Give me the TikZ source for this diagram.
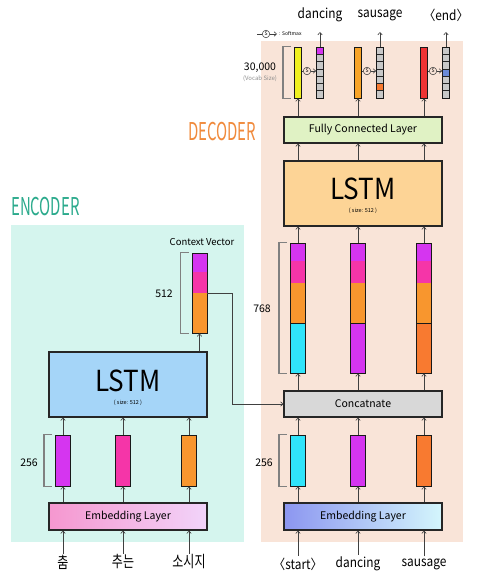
\documentclass[tikz,border=0pt]{standalone}
\usepackage{fontspec}
\setmainfont{Noto Sans CJK KR}
\usetikzlibrary{arrows.meta}
\definecolor{encbg}{HTML}{D5F5EE}
\definecolor{decbg}{HTML}{F9E4D8}
\definecolor{enctitle}{HTML}{2BAA8C}
\definecolor{dectitle}{HTML}{F08A3C}
\definecolor{purp}{HTML}{D535F0}
\definecolor{pinkc}{HTML}{F535A8}
\definecolor{orng}{HTML}{F8962E}
\definecolor{cyanc}{HTML}{30E4FA}
\definecolor{orng2}{HTML}{F87A30}
\definecolor{lstmblue}{HTML}{A5D5F8}
\definecolor{lstmorange}{HTML}{FDD496}
\definecolor{fcgreen}{HTML}{E0F2C4}
\definecolor{concgray}{HTML}{D8D8D8}
\definecolor{yellowc}{HTML}{F0F020}
\definecolor{orng3}{HTML}{F8A428}
\definecolor{redc}{HTML}{EE3434}
\definecolor{cellgray}{HTML}{C8C8C8}
\definecolor{cellblue}{HTML}{6A8AD8}
\definecolor{embAl}{HTML}{F597CF}
\definecolor{embAr}{HTML}{F2D4FA}
\definecolor{embBl}{HTML}{8C96F0}
\definecolor{embBr}{HTML}{D4F6FC}
\begin{document}
\begin{tikzpicture}[x=1pt,y=-1pt,
  layer/.style={draw=black!85,line width=1.1pt,minimum width=158pt,inner sep=0pt,font=\fontsize{10.5}{12}\selectfont},
  vec/.style={draw=black!90,line width=0.9pt,minimum width=15pt,inner sep=0pt},
  obar/.style={draw=black!90,line width=0.8pt,minimum width=7pt,minimum height=51pt,inner sep=0pt},
  arr/.style={draw=black!75,line width=0.6pt,-{Straight Barb[length=2.5pt,width=4.5pt]}},
  brk/.style={draw=black!50,line width=1.6pt},
  lbl/.style={font=\fontsize{10.5}{12}\selectfont,inner sep=0pt},
  word/.style={font=\fontsize{13.5}{15}\selectfont,inner sep=2pt},
  kword/.style={font=\fontsize{16}{17}\selectfont,inner sep=1pt},
  big/.style={font=\fontsize{29}{30}\selectfont,inner sep=0pt},
  tiny/.style={font=\fontsize{5.5}{6}\selectfont,inner sep=0pt},
  smx/.style={circle,draw=black!80,line width=0.5pt,inner sep=0pt,minimum size=7.5pt,font=\fontsize{5}{5}\selectfont},
]
\useasboundingbox (0,0) rectangle (479,578);
% backgrounds
\fill[encbg] (11,225) rectangle (244,542);
\fill[decbg] (261,41) rectangle (463,542);
\node[font=\fontsize{24.5}{25}\selectfont,text=enctitle,anchor=west,inner sep=0pt] (enct) at (11,207) {\scalebox{0.61}[1]{ENCODER}};
\node[font=\fontsize{24.5}{25}\selectfont,text=dectitle,anchor=west,inner sep=0pt] (dect) at (188,132) {\scalebox{0.61}[1]{DECODER}};

% ================= ENCODER =================
\node[layer,minimum height=27pt,left color=embAl,right color=embAr] (eemb) at (128,516.5) {Embedding Layer};
\node[vec,minimum height=51pt,fill=purp] (ev1) at (63,460.5) {};
\node[vec,minimum height=51pt,fill=pinkc] (ev2) at (123,460.5) {};
\node[vec,minimum height=51pt,fill=orng] (ev3) at (189,460.5) {};
\draw[brk] ([xshift=-3pt]ev1.north west) -| ([xshift=-11pt]ev1.south west) -- ([xshift=-3pt]ev1.south west);
\node[lbl] (e256) at (29,463) {256};
\node[layer,minimum height=65pt,fill=lstmblue] (elstm) at (128,384.5) {};
\node[big] (elt) at (128,381) {\scalebox{0.9}[1]{LSTM}};
\node[tiny] (els) at (128,403) {( size: 512 )};
% context vector
\fill[purp] (192,253) rectangle (207,272);
\fill[pinkc] (192,272) rectangle (207,293);
\fill[orng] (192,293) rectangle (207,333);
\node[vec,minimum height=80pt] (ctx) at (199.5,293) {};
\node[font=\fontsize{9.5}{11}\selectfont,inner sep=0pt] (ctxl) at (202,242) {Context Vector};
\draw[brk] ([xshift=-3pt]ctx.north west) -| ([xshift=-11pt]ctx.south west) -- ([xshift=-3pt]ctx.south west);
\node[lbl] (e512) at (164,294) {512};
% inputs
\node[kword] (i1) at (63,562) {\scalebox{0.75}[1]{춤}};
\node[kword] (i2) at (123,562) {\scalebox{0.75}[1]{추는}};
\node[kword] (i3) at (189,562) {\scalebox{0.75}[1]{소시지}};
\foreach \k in {1,2,3} {
  \draw[arr] (i\k.north) -- (eemb.south -| i\k);
  \draw[arr] (eemb.north -| ev\k) -- (ev\k.south);
  \draw[arr] (ev\k.north) -- (elstm.south -| ev\k);
}
\draw[arr] (elstm.north -| ctx) -- (ctx.south);

% ================= DECODER =================
\node[layer,minimum height=27pt,left color=embBl,right color=embBr] (demb) at (363,516.5) {Embedding Layer};
\node[vec,minimum height=51pt,fill=cyanc] (dv1) at (298,460.5) {};
\node[vec,minimum height=51pt,fill=purp] (dv2) at (358,460.5) {};
\node[vec,minimum height=51pt,fill=orng2] (dv3) at (424,460.5) {};
\draw[brk] ([xshift=-3pt]dv1.north west) -| ([xshift=-11pt]dv1.south west) -- ([xshift=-3pt]dv1.south west);
\node[lbl] (d256) at (264,463) {256};
\node[layer,minimum height=26pt,fill=concgray] (conc) at (363,404) {Concatnate};
% 768 vectors
\foreach \k/\x/\c in {1/298/cyanc,2/358/purp,3/424/orng2} {
  \fill[purp] (\x-7.5,243) rectangle (\x+7.5,261);
  \fill[pinkc] (\x-7.5,261) rectangle (\x+7.5,283);
  \fill[orng] (\x-7.5,283) rectangle (\x+7.5,323);
  \fill[\c] (\x-7.5,323) rectangle (\x+7.5,373);
  \node[vec,minimum height=130pt] (dw\k) at (\x,308) {};
  \draw[black!90,line width=0.9pt] (dw\k.west |- 0,323) -- (dw\k.east |- 0,323);
}
\draw[brk] ([xshift=-3pt]dw1.north west) -| ([xshift=-11pt]dw1.south west) -- ([xshift=-3pt]dw1.south west);
\node[lbl] (d768) at (262,309) {768};
\node[layer,minimum height=65pt,fill=lstmorange] (dlstm) at (363,193.5) {};
\node[big] (dlt) at (363,189) {\scalebox{0.9}[1]{LSTM}};
\node[tiny] (dls) at (363,211) {( size: 512 )};
\node[layer,minimum height=26pt,fill=fcgreen] (fc) at (363,130) {Fully Connected Layer};
% output bars
\node[obar,fill=yellowc] (b1) at (298,72.5) {};
\node[obar,fill=orng3] (b2) at (358,72.5) {};
\node[obar,fill=redc] (b3) at (424,72.5) {};
% softmax grids
\foreach \k/\x/\hi/\hc in {1/320/0/purp,2/380/5/orng2,3/446/3/cellblue} {
  \foreach \j in {0,...,6} {
    \pgfmathsetmacro{\ya}{47+\j*51/7}
    \pgfmathsetmacro{\yb}{47+(\j+1)*51/7}
    \ifnum\j=\hi
      \filldraw[fill=\hc,draw=black!85,line width=0.5pt] (\x-3.5,\ya) rectangle (\x+3.5,\yb);
    \else
      \filldraw[fill=cellgray,draw=black!85,line width=0.5pt] (\x-3.5,\ya) rectangle (\x+3.5,\yb);
    \fi
  }
  \node[obar,fill=none] (g\k) at (\x,72.5) {};
}
\foreach \k/\x in {1/307,2/367,3/433} {
  \node[smx] (s\k) at (\x,71) {S};
  \draw[black!75,line width=0.5pt] (b\k.east |- s\k) -- (s\k.west);
  \draw[arr] (s\k.east) -- (g\k.west |- s\k);
}
\draw[brk] (b1.north west) ++(-3pt,0) coordinate (bk1) -- ++(-8pt,0) coordinate (bk2) -- (bk2 |- b1.south) -- (bk1 |- b1.south);
\node[lbl] (vs) at (260,68) {30,000};
\node[font=\fontsize{6}{7}\selectfont,text=black!45,inner sep=0pt] (vsl) at (260,79) {\textit{(Vocab Size)}};
% legend
\node[smx] (ls) at (266,34) {S};
\coordinate (lsa) at (257,34);
\coordinate (lsb) at (277,34);
\draw[black!75,line width=0.5pt] (lsa) -- (ls.west);
\draw[arr] (ls.east) -- (lsb);
\node[font=\fontsize{5}{6}\selectfont,anchor=west,inner sep=0pt] (lst) at (279,34) {: Softmax};
% outputs
\coordinate (o1) at (320,32);
\coordinate (o2) at (380,32);
\coordinate (o3) at (446,32);
\node[word] (t1) at (320,15) {\scalebox{0.88}[1]{dancing}};
\node[word] (t2) at (380,15) {\scalebox{0.88}[1]{sausage}};
\node[word] (t3) at (446,15) {\scalebox{0.88}[1]{〈end〉}};
% decoder inputs
\node[word] (j1) at (298,564) {\scalebox{0.88}[1]{〈start〉}};
\node[word] (j2) at (358,564) {\scalebox{0.88}[1]{dancing}};
\node[word] (j3) at (424,564) {\scalebox{0.88}[1]{sausage}};
\foreach \k in {1,2,3} {
  \draw[arr] (j\k.north) -- (demb.south -| j\k);
  \draw[arr] (demb.north -| dv\k) -- (dv\k.south);
  \draw[arr] (dv\k.north) -- (conc.south -| dv\k);
  \draw[arr] (conc.north -| dw\k) -- (dw\k.south);
  \draw[arr] (dw\k.north) -- (dlstm.south -| dw\k);
  \draw[arr] (dlstm.north -| dw\k) -- (fc.south -| dw\k);
  \draw[arr] (fc.north -| b\k) -- (b\k.south);
  \draw[arr] (g\k.north) -- (o\k);
}
% context to concatenate
\draw[arr] (ctx.east) -- ++(25,0) |- (conc.west);
\end{tikzpicture}
\end{document}
